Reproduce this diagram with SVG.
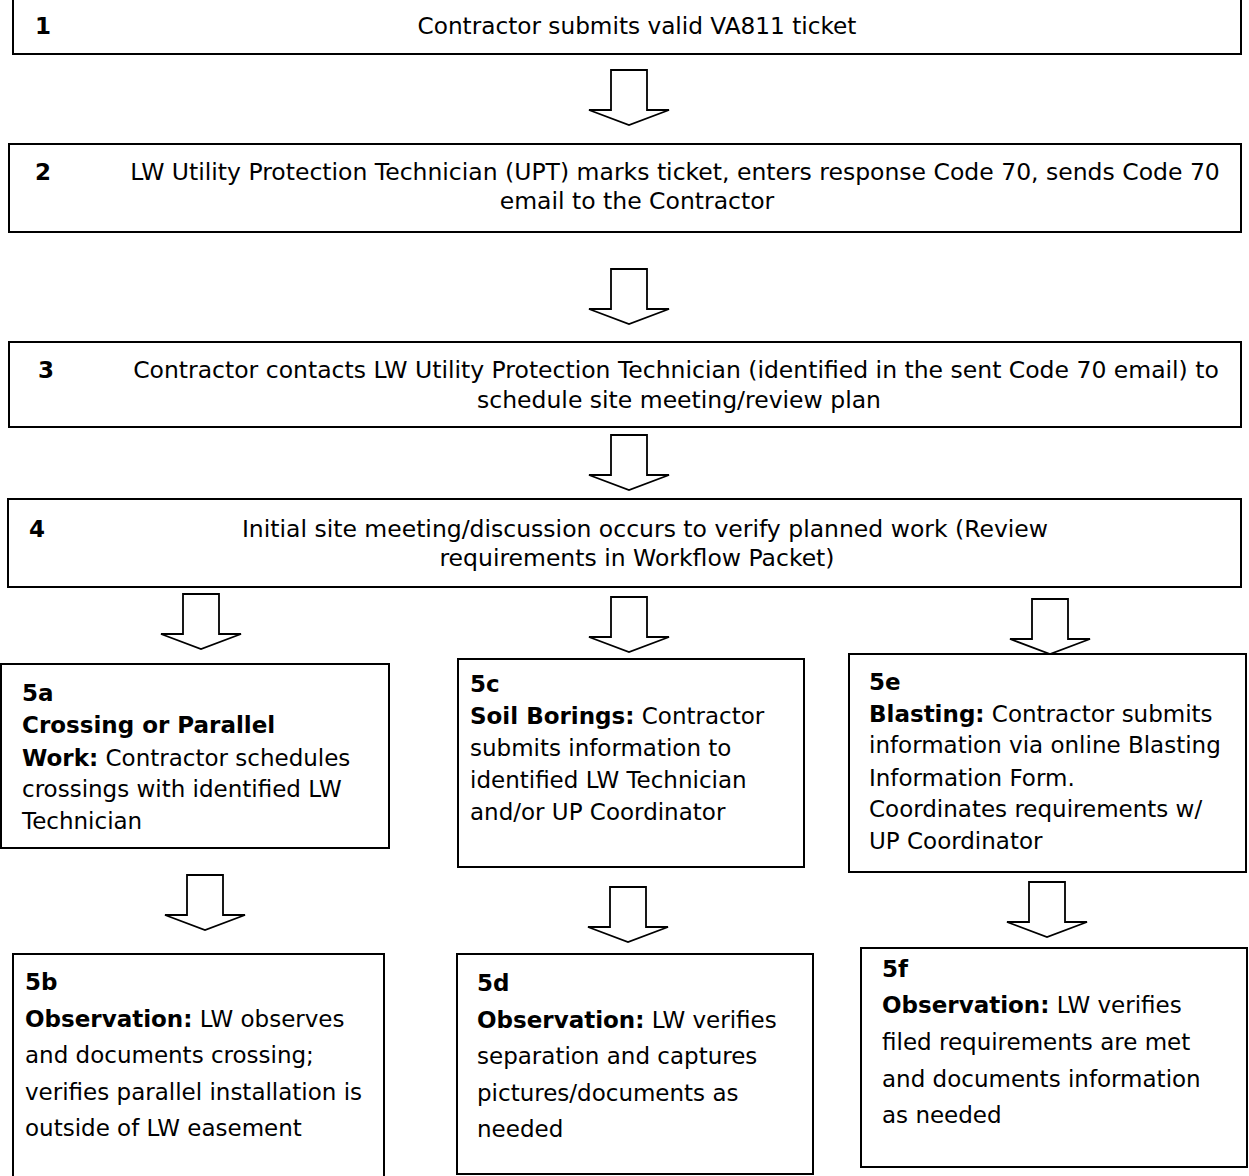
<svg xmlns="http://www.w3.org/2000/svg" width="1249" height="1176" viewBox="0 0 1249 1176">
<style>
.box{fill:#fff;stroke:#000;stroke-width:2}
.arr{fill:#fff;stroke:#000;stroke-width:1.8;stroke-linejoin:miter}
text{font-family:"DejaVu Sans","Liberation Sans",sans-serif;font-size:23px;fill:#000}
.t{font-size:23.5px}
.b{font-weight:bold}
.c{text-anchor:middle}
</style>
<defs>
<path id="arrow" d="M-18,0 V40 H-40 L0,55 L40,40 H18 V0 Z"/>
</defs>
<rect width="1249" height="1176" fill="#fff"/>
<g id="connectors">
<use href="#arrow" class="arr" x="629" y="70"/>
<use href="#arrow" class="arr" x="629" y="269"/>
<use href="#arrow" class="arr" x="629" y="435"/>
<use href="#arrow" class="arr" x="201" y="594"/>
<use href="#arrow" class="arr" x="629" y="597"/>
<use href="#arrow" class="arr" x="1050" y="599"/>
<use href="#arrow" class="arr" x="205" y="875"/>
<use href="#arrow" class="arr" x="628" y="887"/>
<use href="#arrow" class="arr" x="1047" y="882"/>
</g>
<g id="n1">
<rect class="box" x="13" y="-5" width="1228" height="59"/>
<text class="b" x="35" y="34">1</text>
<text class="c" x="637" y="34" style="font-size:23.2px">Contractor submits valid VA811 ticket</text>
</g>
<g id="n2">
<rect class="box" x="9" y="144" width="1232" height="88"/>
<text class="b" x="35" y="180">2</text>
<text class="c t" x="675" y="180">LW Utility Protection Technician (UPT) marks ticket, enters response Code 70, sends Code 70</text>
<text class="c t" x="637" y="209">email to the Contractor</text>
</g>
<g id="n3">
<rect class="box" x="9" y="342" width="1232" height="85"/>
<text class="b" x="38" y="378">3</text>
<text class="c t" x="676" y="378">Contractor contacts LW Utility Protection Technician (identified in the sent Code 70 email) to</text>
<text class="c t" x="679" y="408">schedule site meeting/review plan</text>
</g>
<g id="n4">
<rect class="box" x="8" y="499" width="1233" height="88"/>
<text class="b" x="29" y="537">4</text>
<text class="c t" x="645" y="537">Initial site meeting/discussion occurs to verify planned work (Review</text>
<text class="c t" x="637" y="566">requirements in Workflow Packet)</text>
</g>
<g id="n5a">
<rect class="box" x="1" y="664" width="388" height="184"/>
<text class="b" x="22" y="701">5a</text>
<text class="b" x="22" y="733">Crossing or Parallel</text>
<text x="22" y="766"><tspan class="b">Work:</tspan> Contractor schedules</text>
<text x="22" y="797">crossings with identified LW</text>
<text x="22" y="829">Technician</text>
</g>
<g id="n5c">
<rect class="box" x="458" y="659" width="346" height="208"/>
<text class="b" x="470" y="692">5c</text>
<text x="470" y="724"><tspan class="b">Soil Borings:</tspan> Contractor</text>
<text x="470" y="756">submits information to</text>
<text x="470" y="788">identified LW Technician</text>
<text x="470" y="820">and/or UP Coordinator</text>
</g>
<g id="n5e">
<rect class="box" x="849" y="654" width="397" height="218"/>
<text class="b" x="869" y="690">5e</text>
<text x="869" y="722"><tspan class="b">Blasting:</tspan> Contractor submits</text>
<text x="869" y="753">information via online Blasting</text>
<text x="869" y="786">Information Form.</text>
<text x="869" y="817">Coordinates requirements w/</text>
<text x="869" y="849">UP Coordinator</text>
</g>
<g id="n5b">
<rect class="box" x="13" y="954" width="371" height="240"/>
<text class="b" x="25" y="990">5b</text>
<text x="25" y="1027"><tspan class="b">Observation:</tspan> LW observes</text>
<text x="25" y="1063">and documents crossing;</text>
<text x="25" y="1100">verifies parallel installation is</text>
<text x="25" y="1136">outside of LW easement</text>
</g>
<g id="n5d">
<rect class="box" x="457" y="954" width="356" height="220"/>
<text class="b" x="477" y="991">5d</text>
<text x="477" y="1028"><tspan class="b">Observation:</tspan> LW verifies</text>
<text x="477" y="1064">separation and captures</text>
<text x="477" y="1101">pictures/documents as</text>
<text x="477" y="1137">needed</text>
</g>
<g id="n5f">
<rect class="box" x="861" y="948" width="386" height="219"/>
<text class="b" x="882" y="977">5f</text>
<text x="882" y="1013"><tspan class="b">Observation:</tspan> LW verifies</text>
<text x="882" y="1050">filed requirements are met</text>
<text x="882" y="1087">and documents information</text>
<text x="882" y="1123">as needed</text>
</g>
</svg>
